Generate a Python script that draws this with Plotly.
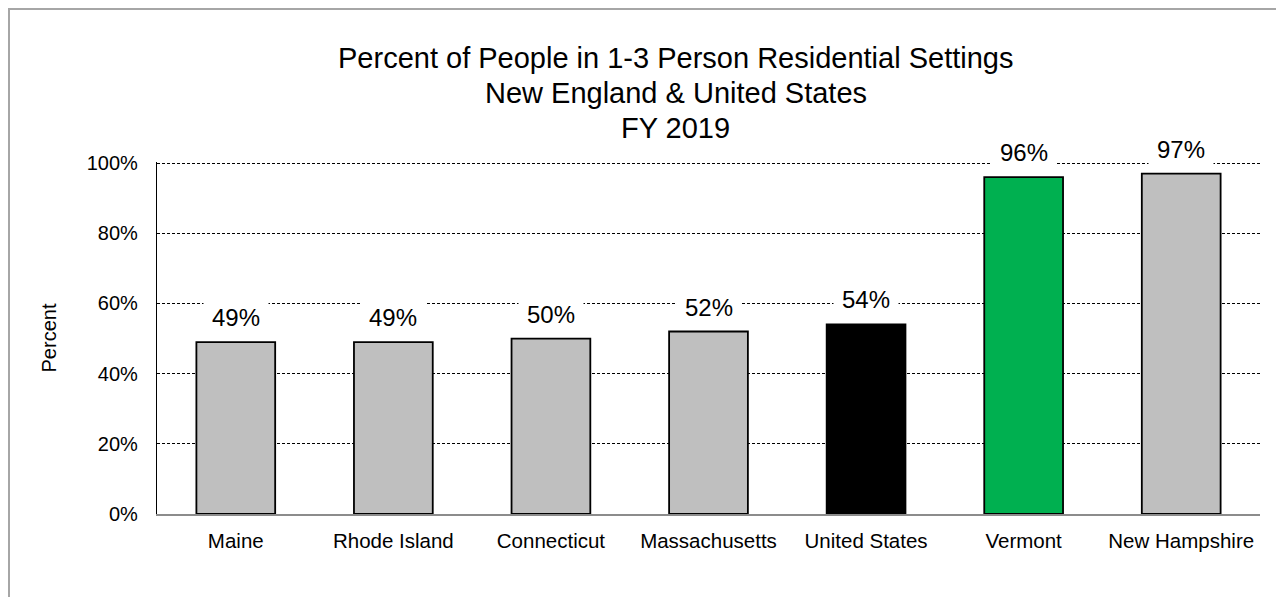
import plotly.graph_objects as go

categories = ["Maine", "Rhode Island", "Connecticut", "Massachusetts",
              "United States", "Vermont", "New Hampshire"]
values = [49, 49, 50, 52, 54, 96, 97]
labels = ["49%", "49%", "50%", "52%", "54%", "96%", "97%"]
bar_colors = ["#BFBFBF", "#BFBFBF", "#BFBFBF", "#BFBFBF", "#000000", "#00B050", "#BFBFBF"]
y_ticks = [0, 20, 40, 60, 80, 100]
y_tick_text = ["0%", "20%", "40%", "60%", "80%", "100%"]
title_lines = ["Percent of People in 1-3 Person Residential Settings",
               "New England & United States", "FY 2019"]

FONT = "Liberation Sans, Arial, sans-serif"

# the page body adds an 8px offset, so the figure is laid out in page coords minus 8
OFF = 8
W, H = 1284 - OFF, 597 - OFF
YMAX = 100.3
plot_left, plot_right = 157 - OFF, 1260 - OFF
plot_bottom = 514 - OFF
ph = 351 * YMAX / 100.0
L = plot_left
R = W - plot_right
B = H - plot_bottom
T = int(round(plot_bottom - ph))
pw = plot_right - plot_left
ph = H - T - B

def px_x(x):
    return (x - OFF - L) / pw

def px_y(y):
    return (H - B - (y - OFF)) / ph

fig = go.Figure()
fig.add_trace(go.Bar(
    x=categories, y=values,
    marker=dict(color=bar_colors, line=dict(color="#000000", width=1.8)),
    width=0.5, showlegend=False, hoverinfo="skip",
))

annotations = []
for c, v, t in zip(categories, values, labels):
    annotations.append(dict(
        x=c, y=v, xref="x", yref="y", text=t, showarrow=False,
        yanchor="bottom", xanchor="center", yshift=2,
        font=dict(family=FONT, size=24, color="#000000"),
        bgcolor="#FFFFFF", borderpad=8,
    ))

title_y = [58, 93, 128]
for line, yy in zip(title_lines, title_y):
    annotations.append(dict(
        x=px_x(675.5), y=px_y(yy), xref="paper", yref="paper", text=line,
        showarrow=False, xanchor="center", yanchor="middle",
        font=dict(family=FONT, size=29, color="#000000"),
    ))

fig.update_layout(
    width=W, height=H,
    margin=dict(l=L, r=R, t=T, b=B, pad=0),
    paper_bgcolor="#FFFFFF", plot_bgcolor="#FFFFFF",
    annotations=annotations,
    bargap=0.5,
    shapes=[dict(type="rect", xref="paper", yref="paper",
                 x0=(1 - L) / pw, y0=(H - B - 1) / ph, x1=1.2, y1=-0.5,
                 line=dict(color="#A6A6A6", width=2), layer="below")],
    xaxis=dict(
        showgrid=False, showline=True, linecolor="#8C8C8C", linewidth=1.5,
        ticks="", tickfont=dict(family=FONT, size=20.5, color="#000000"),
        ticklabelstandoff=8,
    ),
    yaxis=dict(
        range=[0, YMAX], tickvals=y_ticks, ticktext=y_tick_text,
        showgrid=True, gridcolor="#000000", gridwidth=1, griddash="3px,2px",
        showline=True, linecolor="#000000", linewidth=1.2,
        ticks="", zeroline=False,
        tickfont=dict(family=FONT, size=20, color="#000000"),
        ticklabelstandoff=14,
        title=dict(text="Percent", standoff=24,
                   font=dict(family=FONT, size=20, color="#000000")),
    ),
)

fig.write_html("out.html")
